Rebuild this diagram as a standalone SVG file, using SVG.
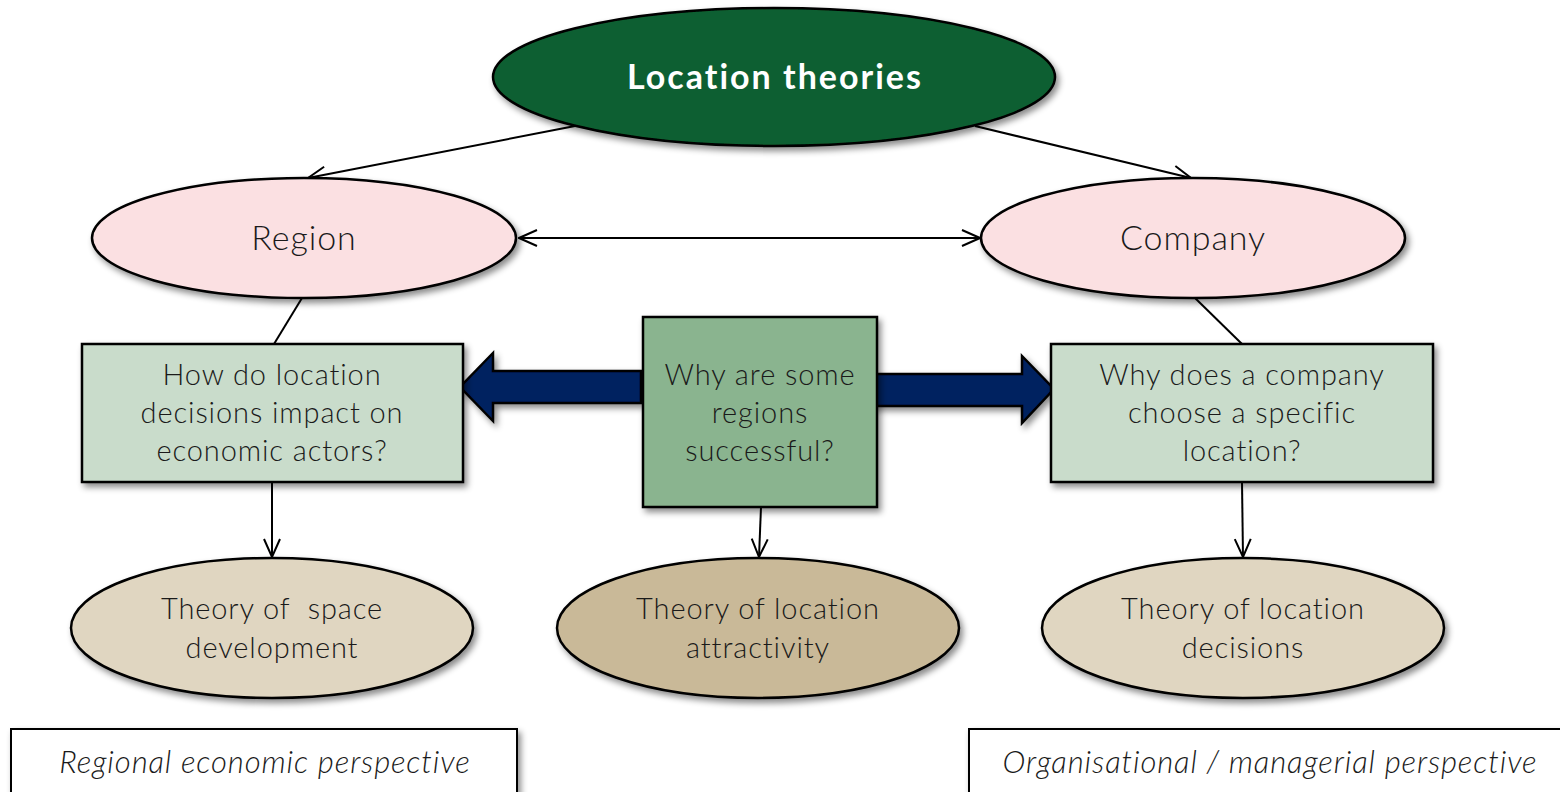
<svg xmlns="http://www.w3.org/2000/svg" width="1560" height="792" viewBox="0 0 1560 792">
<defs>
<filter id="sh" x="-10%" y="-10%" width="130%" height="140%">
<feDropShadow dx="3" dy="4" stdDeviation="3" flood-color="#000" flood-opacity="0.45"/>
</filter>
<marker id="ah" viewBox="0 0 20 20" refX="19" refY="10" markerWidth="20" markerHeight="20" markerUnits="userSpaceOnUse" orient="auto-start-reverse">
<path d="M1,2 L19,10 L1,18" fill="none" stroke="#000" stroke-width="2"/>
</marker>
</defs>
<style>
.t{font-family:Lato,"Open Sans","Liberation Sans",sans-serif;font-weight:300;fill:#1a1a1a;text-anchor:middle;letter-spacing:0.9px}
.ln{stroke:#000;stroke-width:2;fill:none}
.nd{stroke:#000;stroke-width:2.5}
.ba{fill:#002060;stroke:#000;stroke-width:2.5;stroke-linejoin:miter}
</style>
<rect width="1560" height="792" fill="#fff"/>
<g id="connectors">
<line class="ln" x1="575" y1="126" x2="308" y2="178" marker-end="url(#ah)"/>
<line class="ln" x1="975" y1="126" x2="1191" y2="178" marker-end="url(#ah)"/>
<line class="ln" x1="519" y1="238" x2="980" y2="238" marker-start="url(#ah)" marker-end="url(#ah)"/>
<line class="ln" x1="302" y1="298" x2="274" y2="344"/>
<line class="ln" x1="1195" y1="298" x2="1242" y2="344"/>
<line class="ln" x1="272" y1="482" x2="272" y2="557" marker-end="url(#ah)"/>
<line class="ln" x1="761" y1="507" x2="759" y2="557" marker-end="url(#ah)"/>
<line class="ln" x1="1242" y1="482" x2="1243" y2="557" marker-end="url(#ah)"/>
<polygon class="ba" filter="url(#sh)" points="641,371 493,371 493,353 460,387 493,421 493,403 641,403"/>
<polygon class="ba" filter="url(#sh)" points="873,374 1022,374 1022,356 1054,389 1022,423 1022,406 873,406"/>
</g>
<g id="location-theories">
<ellipse class="nd" filter="url(#sh)" cx="774" cy="77" rx="281" ry="69" fill="#0d5f30"/>
<text x="775" y="89" font-family="Lato,'Open Sans','Liberation Sans',sans-serif" font-weight="bold" font-size="34" letter-spacing="2" fill="#fff" text-anchor="middle">Location theories</text>
</g>
<g id="region">
<ellipse class="nd" filter="url(#sh)" cx="304" cy="238" rx="212" ry="60" fill="#fbe0e2"/>
<text class="t" x="304" y="250" font-size="34">Region</text>
</g>
<g id="company">
<ellipse class="nd" filter="url(#sh)" cx="1193" cy="238" rx="212" ry="60" fill="#fbe0e2"/>
<text class="t" x="1193" y="250" font-size="34">Company</text>
</g>
<g id="q-region">
<rect class="nd" filter="url(#sh)" x="82" y="344" width="381" height="138" fill="#c9dccb"/>
<text class="t" font-size="29"><tspan x="272" y="385">How do location</tspan><tspan x="272" y="423">decisions impact on</tspan><tspan x="272" y="461">economic actors?</tspan></text>
</g>
<g id="q-center">
<rect class="nd" filter="url(#sh)" x="643" y="317" width="234" height="190" fill="#8ab48f"/>
<text class="t" font-size="29"><tspan x="760" y="385">Why are some</tspan><tspan x="760" y="423">regions</tspan><tspan x="760" y="461">successful?</tspan></text>
</g>
<g id="q-company">
<rect class="nd" filter="url(#sh)" x="1051" y="344" width="382" height="138" fill="#c9dccb"/>
<text class="t" font-size="29"><tspan x="1242" y="385">Why does a company</tspan><tspan x="1242" y="423">choose a specific</tspan><tspan x="1242" y="461">location?</tspan></text>
</g>
<g id="theory-space">
<ellipse class="nd" filter="url(#sh)" cx="272" cy="628" rx="201" ry="70" fill="#e0d6c1"/>
<text class="t" font-size="29"><tspan x="272" y="619">Theory of&#160; space</tspan><tspan x="272" y="658">development</tspan></text>
</g>
<g id="theory-attractivity">
<ellipse class="nd" filter="url(#sh)" cx="758" cy="628" rx="201" ry="70" fill="#c9b998"/>
<text class="t" font-size="29"><tspan x="758" y="619">Theory of location</tspan><tspan x="758" y="658">attractivity</tspan></text>
</g>
<g id="theory-decisions">
<ellipse class="nd" filter="url(#sh)" cx="1243" cy="628" rx="201" ry="70" fill="#e0d6c1"/>
<text class="t" font-size="29"><tspan x="1243" y="619">Theory of location</tspan><tspan x="1243" y="658">decisions</tspan></text>
</g>
<g id="regional-perspective">
<rect x="11" y="729" width="506" height="80" fill="#fff" stroke="#000" stroke-width="2" filter="url(#sh)"/>
<text class="t" x="265" y="773" font-size="31" font-style="italic" letter-spacing="1.2">Regional economic perspective</text>
</g>
<g id="managerial-perspective">
<rect x="969" y="729" width="600" height="80" fill="#fff" stroke="#000" stroke-width="2" filter="url(#sh)"/>
<text class="t" x="1270" y="773" font-size="31" font-style="italic" letter-spacing="1.2">Organisational / managerial perspective</text>
</g>
</svg>
